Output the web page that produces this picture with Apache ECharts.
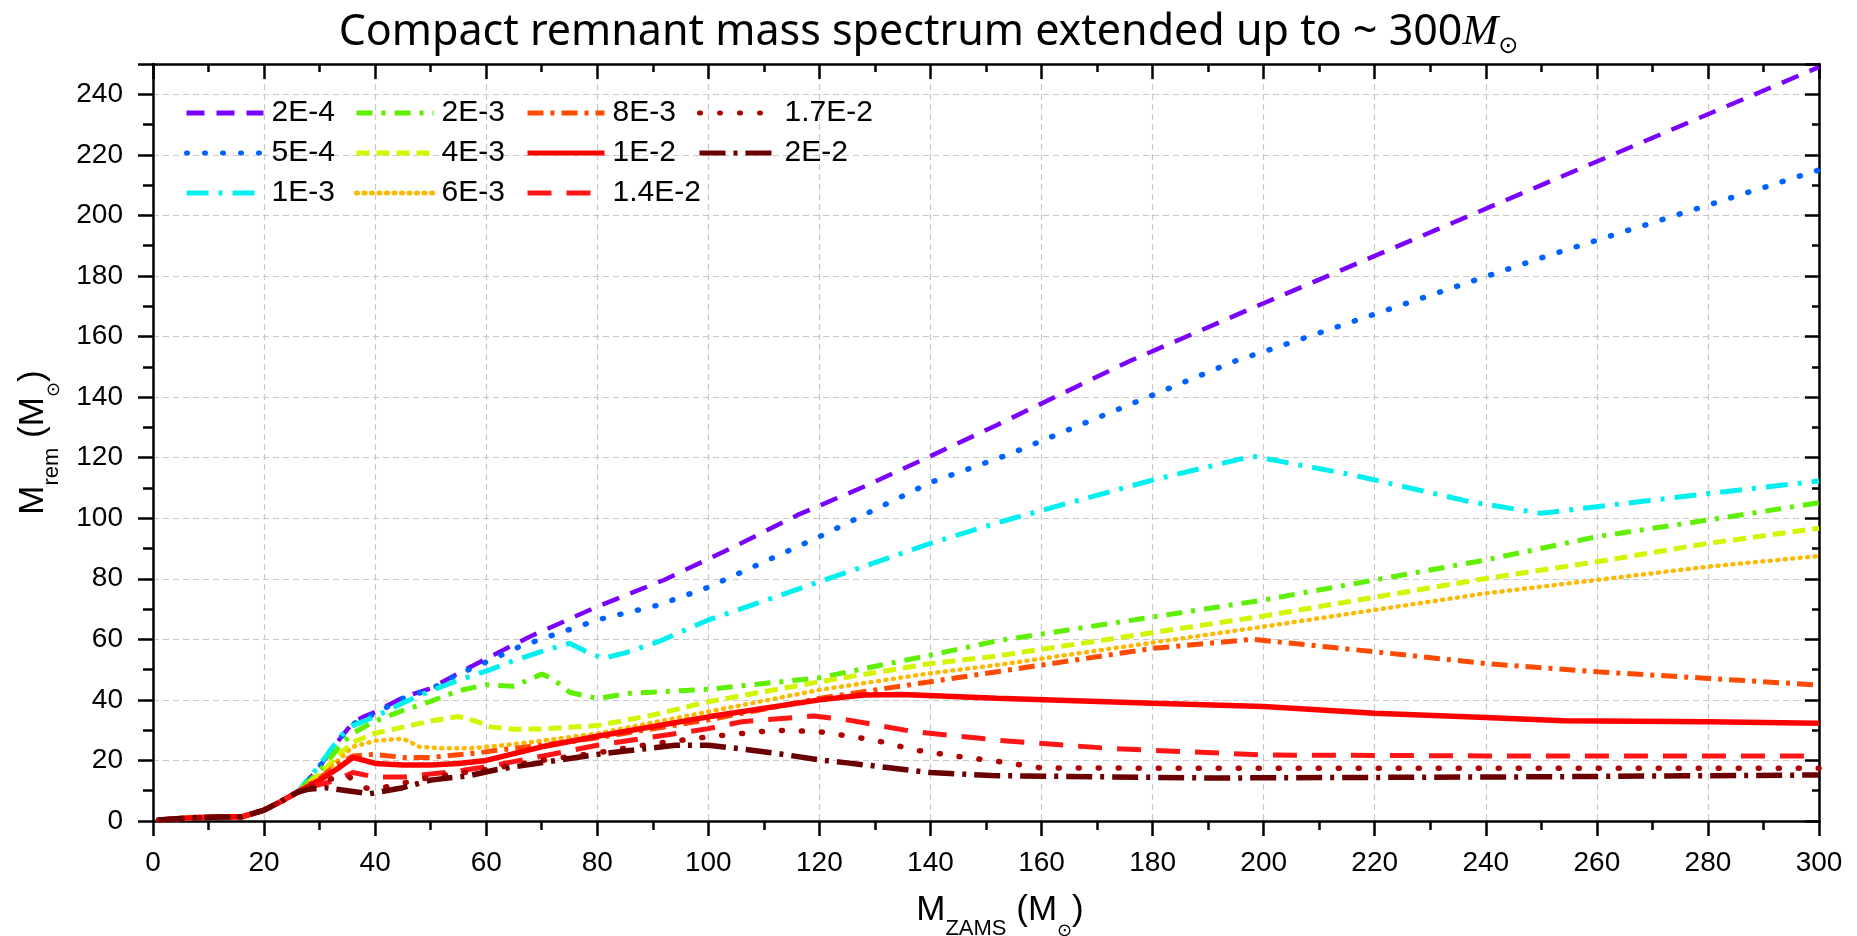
<!DOCTYPE html>
<html>
<head>
<meta charset="utf-8">
<title>Compact remnant mass spectrum</title>
<script src="https://cdn.jsdelivr.net/npm/echarts@6/dist/echarts.min.js"></script>
<style>
  html, body { margin: 0; padding: 0; background: #fff; }
  #main { width: 1857px; height: 936px; }
</style>
</head>
<body>
<div id="main"></div>
<script>
// metallicities shown in the legend, column by column
const names = ['2E-4', '5E-4', '1E-3', '2E-3', '4E-3', '6E-3', '8E-3', '1E-2', '1.4E-2', '1.7E-2', '2E-2'];
const legendCols = [
    ['2E-4', '5E-4', '1E-3'],
    ['2E-3', '4E-3', '6E-3'],
    ['8E-3', '1E-2', '1.4E-2'],
    ['1.7E-2', '2E-2']
];
const xTicks = [0, 20, 40, 60, 80, 100, 120, 140, 160, 180, 200, 220, 240, 260, 280, 300];
const yTicks = [0, 20, 40, 60, 80, 100, 120, 140, 160, 180, 200, 220, 240];

// [M_ZAMS, M_rem]; every curve shares the low mass part
const lowEnd = [[1, 0.3], [7, 1.1], [12, 1.3], [16, 1.4], [20, 3.6], [23, 6.4], [26, 9.5]];

const z2e4 = [[28, 13.5], [30, 18], [32, 23], [34, 28], [36, 32.5], [38, 34.5], [40, 36], [45, 40.8], [50, 43.8], [55, 48.8], [60, 53.6], [68, 61], [80, 70.8], [92, 79.6], [104, 90], [116, 101], [128, 110.4], [140, 120.5], [152, 130.8], [176, 152], [200, 171], [250, 210], [300, 249]];
const z5e4 = [[28, 13.5], [30, 18], [32, 23], [34, 28], [36, 32], [40, 35.5], [45, 40.5], [50, 43.5], [55, 48.5], [60, 52.5], [66, 57.6], [80, 66.4], [91, 71.3], [100, 77.2], [120, 93.9], [140, 111.8], [154, 121], [195, 152], [200, 155], [250, 186], [300, 215]];
const z1e3 = [[28, 14], [30, 18.5], [32, 23.5], [34, 28.5], [36, 31.5], [40, 34.5], [45, 39], [50, 43], [55, 46.5], [60, 49.5], [65, 53], [70, 56], [75, 58.7], [78, 56], [81, 53.7], [85, 55.5], [91, 59.2], [100, 66.4], [120, 79], [140, 91.7], [153, 99], [168, 106.6], [180, 112.6], [198, 120.5], [216, 114.3], [237, 105.5], [250, 101.6], [260, 103.8], [278, 107.7], [300, 112.3]];
const z2e3 = [[28, 13], [30, 16.5], [32, 21], [34, 25.5], [36, 29], [40, 33], [45, 36.5], [50, 39.5], [55, 43], [60, 45], [65, 44.5], [70, 48.5], [72, 47], [75, 42.5], [80, 40.5], [86, 42.2], [100, 43.5], [120, 47.3], [140, 54.8], [152, 59.5], [200, 73], [240, 86.2], [260, 93.9], [280, 99.4], [300, 105.1]];
const z4e3 = [[28, 12.5], [30, 15.5], [33, 21], [36, 26], [40, 29], [45, 31], [50, 33], [55, 34.5], [58, 33], [61, 31], [65, 30.3], [70, 30.4], [80, 31.5], [90, 35], [100, 39.4], [120, 46], [140, 52], [152, 54.5], [200, 67.7], [240, 80.1], [260, 85.6], [280, 91.7], [300, 96.7]];
const z6e3 = [[28, 12], [30, 14.5], [33, 19.5], [36, 24.5], [40, 26.5], [45, 27.2], [48, 24.5], [52, 24], [57, 24], [63, 25], [70, 26.5], [80, 28.9], [100, 36.1], [120, 43.3], [140, 48.8], [152, 51.5], [200, 64.2], [240, 75.2], [260, 79.6], [280, 84], [300, 87.5]];
const z8e3 = [[28, 12], [30, 14], [33, 18.5], [36, 21.5], [40, 22], [45, 21], [50, 21], [58, 22.4], [64, 23.8], [70, 25], [80, 27.5], [100, 33.4], [120, 40.5], [140, 46], [152, 49.3], [180, 57], [198, 60], [220, 55.9], [240, 52], [260, 49.3], [280, 47.1], [300, 44.9]];
const z1e2 = [[28, 11.5], [30, 13.5], [33, 17], [36, 21], [40, 19], [45, 18.5], [50, 18.5], [55, 19], [60, 20], [70, 24.5], [80, 28], [100, 34.4], [120, 40], [128, 41.6], [135, 41.8], [152, 40.5], [180, 38.9], [200, 37.8], [220, 35.6], [240, 34.2], [254, 33.1], [280, 32.8], [300, 32.3]];
const z14e2 = [[28, 11], [30, 12], [33, 13.5], [36, 16], [40, 14.5], [45, 14.5], [50, 15.5], [55, 16.5], [60, 17.9], [70, 21.4], [80, 25], [100, 30.5], [106, 32.8], [119, 34.7], [125, 33.4], [137, 29.5], [149, 27.3], [152, 26.7], [172, 24], [200, 21.8], [240, 21.5], [300, 21.5]];
const z17e2 = [[28, 11], [30, 12.5], [33, 14.5], [35, 15], [38, 11], [40, 10.5], [45, 12.5], [50, 14.5], [60, 17], [70, 20], [80, 22.5], [90, 25.5], [100, 27.8], [112, 30], [120, 29.5], [130, 26.7], [137, 23.5], [145, 21.3], [152, 19.7], [160, 17.5], [200, 17.4], [300, 17.4]];
const z2e2 = [[28, 10.5], [31, 11], [35, 10], [39, 9], [45, 11], [50, 13.5], [57, 15], [62, 17], [69, 19], [80, 22], [94, 25], [100, 25], [105, 24], [112, 22.4], [120, 20.2], [125, 19.2], [140, 16], [151, 15], [190, 14.2], [250, 14.6], [300, 15.2]];

const curves = [z2e4, z5e4, z1e3, z2e3, z4e3, z6e3, z8e3, z1e2, z14e2, z17e2, z2e2];

// line look per curve: colour, dash pattern, width, cap
const looks = [
    { color: '#7a00ff', type: [18, 12], width: 4.5, cap: 'butt' },
    { color: '#0062ff', type: [1, 17], width: 5.5, cap: 'round' },
    { color: '#00f0f0', type: [22, 10, 4, 10], width: 5, cap: 'butt' },
    { color: '#5ef000', type: [16, 9, 4, 9], width: 5, cap: 'butt' },
    { color: '#d4f500', type: [13, 7], width: 5, cap: 'butt' },
    { color: '#ffb800', type: [1, 6.5], width: 4.5, cap: 'round' },
    { color: '#ff4a00', type: [16, 7, 4, 7], width: 5, cap: 'butt' },
    { color: '#ff0000', type: 'solid', width: 5.5, cap: 'butt' },
    { color: '#ff1515', type: [24, 15], width: 5, cap: 'butt' },
    { color: '#b00000', type: [1, 19], width: 5.5, cap: 'round' },
    { color: '#6a0000', type: [26, 8, 4, 8], width: 5.5, cap: 'butt' }
];

const FONT = 'Liberation Sans, Arial, sans-serif';
const BLACK = '#000';
const gridDash = { color: '#c8c8c8', type: [6, 4], width: 1.2 };

function frameAxis(extra) {
    // shared black frame axis settings
    return Object.assign({
        type: 'value',
        axisLine: { show: true, onZero: false, lineStyle: { color: BLACK, width: 2.5 } },
        axisTick: { show: true, length: 15, lineStyle: { color: BLACK, width: 2.5 } },
        minorTick: { show: true, splitNumber: 2, length: 9, lineStyle: { color: BLACK, width: 2.5 } },
        splitLine: { show: false }
    }, extra);
}

const nameRich = {
    b: { fontFamily: FONT, fontSize: 35, color: BLACK, lineHeight: 60 },
    s: { fontFamily: FONT, fontSize: 22, color: BLACK, lineHeight: 10, verticalAlign: 'bottom' },
    sy: { fontFamily: FONT, fontSize: 22, color: BLACK, lineHeight: 21, verticalAlign: 'bottom' },
    o: { fontFamily: 'DejaVu Sans', fontSize: 18, color: BLACK, lineHeight: 10, verticalAlign: 'bottom' },
    oy: { fontFamily: 'DejaVu Sans', fontSize: 18, color: BLACK, lineHeight: 21, verticalAlign: 'bottom' }
};

const series = curves.map((pts, i) => ({
    name: names[i],
    type: 'line',
    data: lowEnd.concat(pts),
    symbol: 'none',
    smooth: false,
    xAxisIndex: 0,
    yAxisIndex: 0,
    lineStyle: { color: looks[i].color, type: looks[i].type, width: looks[i].width, cap: looks[i].cap },
    itemStyle: { color: looks[i].color },
    emphasis: { disabled: true },
    z: 3 + i
}));

const legendLeft = [179, 349, 520, 692];
const legends = legendCols.map((col, i) => ({
    orient: 'vertical',
    left: legendLeft[i],
    top: 93,
    itemWidth: 77,
    itemHeight: 14,
    itemGap: 10,
    selectedMode: false,
    data: col,
    itemStyle: { opacity: 0 },
    lineStyle: { width: 5 },
    textStyle: { fontFamily: FONT, fontSize: 30, color: BLACK, lineHeight: 30, padding: [0, 0, 0, 3] }
}));

const option = {
    animation: false,
    backgroundColor: '#fff',
    title: {
        text: '{a|Compact remnant mass spectrum extended up to ~ 300}{m|M}{s|⊙}',
        left: 'center',
        top: 2,
        textStyle: {
            fontWeight: 'normal',
            rich: {
                a: { fontFamily: 'Noto Sans', fontWeight: 'normal', fontSize: 43, color: BLACK, lineHeight: 52 },
                m: { fontFamily: 'Liberation Serif', fontWeight: 'normal', fontStyle: 'italic', fontSize: 43, color: BLACK, lineHeight: 52 },
                s: { fontFamily: 'DejaVu Sans', fontWeight: 'normal', fontSize: 24, color: BLACK, lineHeight: 26, verticalAlign: 'bottom' }
            }
        }
    },
    legend: legends,
    // keep the plot box fixed, the axis names may run to the edge
    grid: { left: 153, right: 38, top: 64, bottom: 115, containLabel: false, outerBoundsMode: 'none', show: false },
    xAxis: [
        frameAxis({
            position: 'bottom',
            min: xTicks[0],
            max: xTicks[xTicks.length - 1],
            interval: 20,
            axisLabel: { fontFamily: FONT, fontSize: 28, color: BLACK, margin: 28 },
            splitLine: { show: true, lineStyle: gridDash },
            name: '{b|M}{s|ZAMS}{b| (M}{o|⊙}{b|)}',
            nameLocation: 'middle',
            nameGap: 59,
            nameTextStyle: { padding: [0, 0, 0, 28], rich: nameRich }
        }),
        frameAxis({
            position: 'top',
            min: xTicks[0],
            max: xTicks[xTicks.length - 1],
            interval: 20,
            axisTick: { show: true, inside: true, length: 15, lineStyle: { color: BLACK, width: 2.5 } },
            minorTick: { show: true, splitNumber: 2, length: 8, lineStyle: { color: BLACK, width: 2.5 } },
            axisLabel: { show: false }
        })
    ],
    yAxis: [
        frameAxis({
            position: 'left',
            min: yTicks[0],
            max: 250,
            interval: 20,
            axisLabel: { fontFamily: FONT, fontSize: 28, color: BLACK, margin: 30, showMaxLabel: false },
            splitLine: { show: true, lineStyle: gridDash },
            minorTick: { show: true, splitNumber: 2, length: 10, lineStyle: { color: BLACK, width: 2.5 } },
            name: '{b|M}{sy|rem}{b| (M}{oy|⊙}{b|)}',
            nameLocation: 'middle',
            nameGap: 90,
            nameTextStyle: { rich: nameRich }
        }),
        frameAxis({
            position: 'right',
            min: yTicks[0],
            max: 250,
            interval: 20,
            axisTick: { show: true, inside: true, length: 14, lineStyle: { color: BLACK, width: 2.5 } },
            minorTick: { show: true, splitNumber: 2, length: 7, lineStyle: { color: BLACK, width: 2.5 } },
            axisLabel: { show: false }
        })
    ],
    series: series
};

const chart = echarts.init(document.getElementById('main'));
chart.setOption(option);
</script>
</body>
</html>
